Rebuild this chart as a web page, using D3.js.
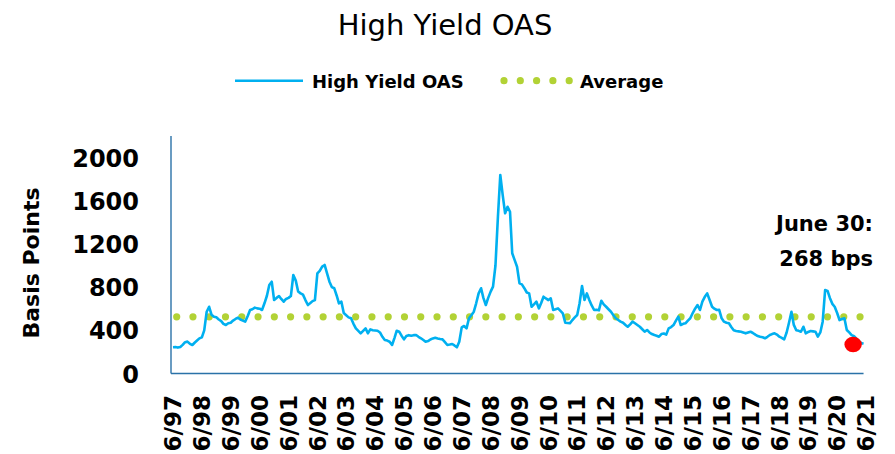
<!DOCTYPE html>
<html>
<head>
<meta charset="utf-8">
<script src="https://cdn.jsdelivr.net/npm/d3@7"></script>
<style>
  body { margin: 0; background: #fff; }
  svg { font-family: "DejaVu Sans", sans-serif; }
  .tick-y, .tick-x, .axis-title, .note, .legend-text { font-weight: bold; fill: #000; }
</style>
</head>
<body>
<svg id="chart" width="895" height="454"></svg>
<script>
// Chart data: monthly High Yield OAS (bps), starting 6/97
var startMonth = "1997-06";
var oasValues = [
  243, 245, 240, 245, 265, 290, 295, 275, 264, 285, 305, 325,
  335, 400, 572, 618, 545, 526, 520, 500, 485, 460, 449, 465,
  470, 490, 505, 517, 500, 490, 480, 530, 588, 595, 610, 603,
  600, 588, 650, 720, 820, 850, 680, 700, 717, 690, 665, 690,
  700, 717, 912, 860, 760, 742, 730, 680, 634, 650, 670, 680,
  927, 950, 990, 1005, 930, 850, 800, 789, 720, 650, 665, 560,
  540, 520, 511, 460, 418, 395, 372, 395, 418, 372, 409, 400,
  398, 396, 380, 340, 310, 305, 294, 264, 330, 396, 387, 350,
  316, 347, 355, 350, 355, 356, 340, 326, 310, 294, 300, 315,
  325, 331, 325, 320, 316, 290, 264, 268, 273, 260, 243, 294,
  427, 440, 418, 511, 540, 572, 650, 742, 789, 700, 634, 700,
  758, 804, 1000, 1450, 1838, 1650, 1483, 1544, 1498, 1113, 1050, 989,
  835, 825, 790, 750, 742, 618, 640, 665, 603, 650, 711, 695,
  680, 696, 588, 595, 603, 580, 557, 470, 468, 465, 495, 520,
  542, 650, 810, 680, 742, 680, 630, 588, 590, 585, 674, 640,
  618, 595, 572, 540, 511, 495, 480, 470, 450, 433, 455, 480,
  465, 449, 433, 410, 387, 403, 380, 365, 356, 350, 341, 365,
  370, 360, 418, 430, 449, 490, 526, 449, 460, 465, 490, 511,
  560, 600, 634, 588, 665, 710, 742, 680, 618, 600, 588, 590,
  511, 480, 470, 465, 430, 400, 393, 390, 387, 380, 372, 380,
  387, 375, 360, 347, 340, 335, 326, 340, 356, 365, 372, 360,
  341, 330, 316, 380, 470, 572, 450, 400, 395, 387, 433, 372,
  385, 393, 390, 387, 341, 380, 480, 773, 765, 700, 645, 618,
  560, 495, 505, 511, 403, 380, 356, 345, 320, 300, 282, 276
];
var averageValue = 525;
var xTickLabels = ["6/97", "6/98", "6/99", "6/00", "6/01", "6/02", "6/03", "6/04",
  "6/05", "6/06", "6/07", "6/08", "6/09", "6/10", "6/11", "6/12", "6/13", "6/14",
  "6/15", "6/16", "6/17", "6/18", "6/19", "6/20", "6/21"];
var yTicks = [0, 400, 800, 1200, 1600, 2000];
var seriesNames = ["High Yield OAS", "Average"];
var noteLines = ["June 30:", "268 bps"];
var notePoint = { date: "2020-12-20", value: 268 };

var lineColor = "#00b0f0";
var avgColor = "#b2d235";
var axisColor = "#2a72a8";

var svg = d3.select("#chart");

var parseMonth = d3.timeParse("%Y-%m");
var parseTick = d3.timeParse("%m/%y");
var parseDay = d3.timeParse("%Y-%m-%d");
var start = parseMonth(startMonth);

var data = oasValues.map(function(v, i) {
  return { date: d3.timeMonth.offset(start, i), value: v };
});

// Scales
var x = d3.scaleTime()
  .domain([parseTick("6/97"), parseTick("6/21")])
  .range([173, 866]);
var y = d3.scaleLinear().domain([0, 2200]).range([373.5, 135.9]);

// Title
svg.append("text")
  .attr("x", 445).attr("y", 35)
  .attr("text-anchor", "middle")
  .style("font-size", "29px")
  .attr("fill", "#000")
  .text("High Yield OAS");

// Legend
var legend = svg.append("g");
legend.append("line")
  .attr("x1", 235).attr("x2", 303).attr("y1", 80.7).attr("y2", 80.7)
  .attr("stroke", lineColor).attr("stroke-width", 2.6);
legend.append("text").attr("class", "legend-text")
  .attr("x", 312).attr("y", 88.3).style("font-size", "18px")
  .text(seriesNames[0]);
legend.append("line")
  .attr("x1", 504).attr("x2", 569.5).attr("y1", 80.7).attr("y2", 80.7)
  .attr("stroke", avgColor).attr("stroke-width", 7.2)
  .attr("stroke-linecap", "round")
  .attr("stroke-dasharray", "0 16.3");
legend.append("text").attr("class", "legend-text")
  .attr("x", 580).attr("y", 88.3).style("font-size", "18px")
  .text(seriesNames[1]);

// Average dotted line
var avgStart = data[0].date, avgEnd = data[data.length - 1].date;
svg.append("line")
  .attr("x1", x(avgStart)).attr("x2", x(avgEnd))
  .attr("y1", y(averageValue)).attr("y2", y(averageValue))
  .attr("stroke", avgColor).attr("stroke-width", 7.2)
  .attr("stroke-linecap", "round")
  .attr("stroke-dasharray", "0 16.27")
  .attr("stroke-dashoffset", 12.57);

// OAS line
var line = d3.line()
  .x(function(d) { return x(d.date); })
  .y(function(d) { return y(d.value); });

svg.append("path")
  .datum(data)
  .attr("d", line)
  .attr("fill", "none")
  .attr("stroke", lineColor)
  .attr("stroke-width", 2.6)
  .attr("stroke-linejoin", "round");

// Axes (plain lines, no tick marks)
svg.append("line")
  .attr("x1", 171).attr("x2", 171).attr("y1", y(2200)).attr("y2", y(0))
  .attr("stroke", axisColor).attr("stroke-width", 1.4);
svg.append("line")
  .attr("x1", 171).attr("x2", x(avgEnd)).attr("y1", y(0)).attr("y2", y(0))
  .attr("stroke", axisColor).attr("stroke-width", 1.4);

// Y tick labels
svg.selectAll(".tick-y")
  .data(yTicks)
  .enter()
  .append("text")
  .attr("class", "tick-y")
  .attr("x", 139)
  .attr("y", function(d) { return y(d); })
  .attr("dy", "0.38em")
  .attr("text-anchor", "end")
  .style("font-size", "24px")
  .text(function(d) { return d; });

// X tick labels, rotated
svg.selectAll(".tick-x")
  .data(xTickLabels)
  .enter()
  .append("text")
  .attr("class", "tick-x")
  .attr("transform", function(d) {
    return "translate(" + x(parseTick(d)) + ",395) rotate(-90)";
  })
  .attr("dy", "0.36em")
  .attr("text-anchor", "end")
  .style("font-size", "23px")
  .text(function(d) { return d; });

// Y axis title
svg.append("text")
  .attr("class", "axis-title")
  .attr("transform", "translate(31,263) rotate(-90)")
  .attr("dy", "0.36em")
  .attr("text-anchor", "middle")
  .style("font-size", "22px")
  .text("Basis Points");

// Latest value marker + note
svg.append("ellipse")
  .attr("cx", x(parseDay(notePoint.date)))
  .attr("cy", y(notePoint.value))
  .attr("rx", 8.7)
  .attr("ry", 7.8)
  .attr("fill", "#ff0000");

svg.selectAll(".note")
  .data(noteLines)
  .enter()
  .append("text")
  .attr("class", "note")
  .attr("x", 873)
  .attr("y", function(d, i) { return i === 0 ? 231 : 265.5; })
  .attr("text-anchor", "end")
  .style("font-size", "21px")
  .text(function(d) { return d; });
</script>
</body>
</html>
